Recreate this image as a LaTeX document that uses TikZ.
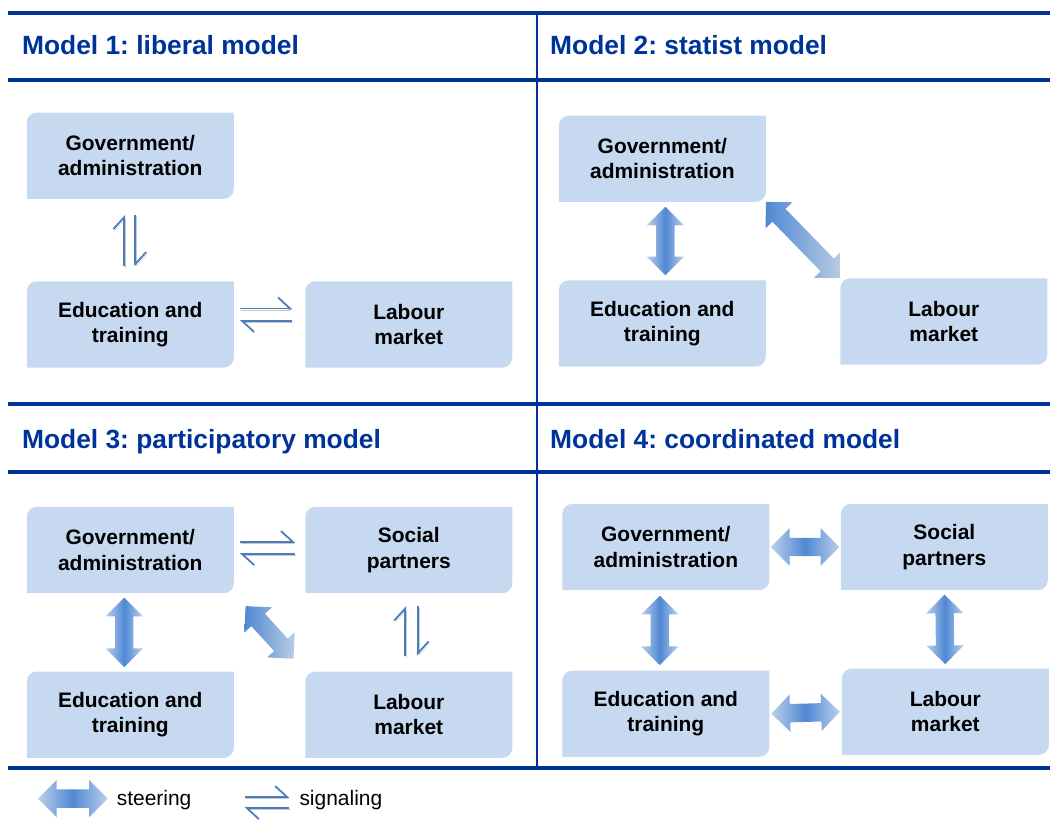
\documentclass[tikz,border=0pt]{standalone}
\usepackage{fontspec}
\setmainfont{Liberation Sans}
\usepackage{tikz}
\usetikzlibrary{arrows.meta, backgrounds, calc, positioning, shapes.arrows}
\frenchspacing

\definecolor{boxblue}{HTML}{C6D9F0}
\definecolor{titleblue}{HTML}{003399}
\definecolor{steerdark}{HTML}{4F88D3}
\definecolor{steerlight}{HTML}{BCD0EC}
\definecolor{fadelight}{HTML}{B8CCE4}
\definecolor{signalblue}{HTML}{4A7EBB}

\begin{document}
\begin{tikzpicture}[x=1pt, y=1pt]
        % Setup the styles
        \tikzset{box style/.style={rectangle,
                                   minimum width=207pt,
                                   minimum height=86pt,
                                   align=center,
                                   font=\fontsize{21}{25.3}\selectfont\bfseries},
                 title style/.style={anchor=base west,
                                     inner sep=0pt,
                                     text=titleblue,
                                     font=\fontsize{26.4}{30}\selectfont\bfseries},
                 legend style/.style={anchor=base west,
                                      font=\fontsize{21}{25}\selectfont},
                 frame line/.style={draw=titleblue, line width=3.7pt},
                 arrow body/.style={double arrow,
                                    double arrow head extend=9.5pt,
                                    minimum width=37pt,
                                    inner xsep=0pt, inner ysep=9pt, outer sep=0pt},
                 steer colors/.style={left color=steerlight, right color=steerlight,
                                      middle color=steerdark},
                 fade colors/.style={left color=steerdark, right color=fadelight},
                 steer/.style={to path={let \p1=(\tikztostart), \p2=(\tikztotarget),
                                            \n1={atan2(\y2-\y1,\x2-\x1)},
                                            \n2={veclen(\x2-\x1,\y2-\y1)} in
                     node[arrow body, steer colors, rotate=\n1, minimum height=\n2-#1]
                         at ($(\p1)!0.5!(\p2)$) {}}},
                 steer/.default=10,
                 fade steer/.style={to path={let \p1=(\tikztostart), \p2=(\tikztotarget),
                                                 \n1={atan2(\y2-\y1,\x2-\x1)},
                                                 \n2={veclen(\x2-\x1,\y2-\y1)} in
                     node[arrow body, fade colors, rotate=\n1, minimum height=\n2-#1]
                         at ($(\p1)!0.5!(\p2)$) {}}},
                 fade steer/.default=0,
                 signal/.style={draw=signalblue, line width=1.8pt,
                                -{Straight Barb[left, length=12pt, width=22pt]},
                                preaction={draw=black!22,
                                           transform canvas={shift={(1.2pt,-1.6pt)}}}}}

        % Draw the frame and the titles
        \foreach \y in {808.2, 741, 416, 348.5, 51.5}
            \draw[frame line] (8, \y) -- (1052, \y);
        \draw[titleblue, line width=2.7pt] (538, 808.2) -- (538, 51.5);

        \node[title style] at (22, 766)  (title1) {Model 1: liberal model};
        \node[title style] at (551, 766) (title2) {Model 2: statist model};
        \node[title style] at (22, 372)  (title3) {Model 3: participatory model};
        \node[title style] at (551, 372) (title4) {Model 4: coordinated model};

        % Draw the boxes
        \node[box style] at (130.5, 665) (gov1) {Government/\\administration};
        \node[box style] at (130.5, 496) (edu1) {Education and\\training};
        \node[box style] at (409.5, 496) (lab1) {Labour\\market};

        \node[box style] at (663.5, 662) (gov2) {Government/\\administration};
        \node[box style] at (663.5, 497) (edu2) {Education and\\training};
        \node[box style] at (945.5, 499) (lab2) {Labour\\market};

        \node[box style] at (130.5, 270) (gov3) {Government/\\administration};
        \node[box style] at (409.5, 270) (soc3) {Social\\partners};
        \node[box style] at (130.5, 105) (edu3) {Education and\\training};
        \node[box style] at (409.5, 105) (lab3) {Labour\\market};

        \node[box style] at (667, 273)   (gov4) {Government/\\administration};
        \node[box style] at (946, 273)   (soc4) {Social\\partners};
        \node[box style] at (667, 106)   (edu4) {Education and\\training};
        \node[box style] at (947, 108)   (lab4) {Labour\\market};

        % Fill the boxes, upper left and lower right corners rounded
        \begin{scope}[on background layer]
        \foreach \b in {gov1,edu1,lab1,gov2,edu2,lab2,gov3,soc3,edu3,lab3,gov4,soc4,edu4,lab4}
            \fill[boxblue] (\b.south west) -- ([yshift=-10]\b.north west)
                arc[start angle=180, end angle=90, radius=10] -- (\b.north east)
                -- ([yshift=10]\b.south east)
                arc[start angle=0, end angle=-90, radius=10] -- cycle;
        \end{scope}

        % Connect the boxes with steering arrows
        \path ([xshift=3]gov2.south)  edge[steer]          ([xshift=3]edu2.north)
              (gov2.south east)       edge[fade steer]     (lab2.north west)
              ([xshift=-6]gov3.south) edge[steer=9]        ([xshift=-6]edu3.north)
              (gov3.south east)       edge[fade steer=35]  (lab3.north west)
              (gov4.east)             edge[steer=3]        (soc4.west)
              (edu4.east)             edge[steer=4]        (lab4.west)
              ([xshift=-6]gov4.south) edge[steer=11]       ([xshift=-6]edu4.north)
              (soc4.south)            edge[steer=9]        (lab4.north);

        % Connect the boxes with signaling arrows
        \draw[signal] ([shift={(-6, 15)}]edu1.north) -- ([shift={(-6, -16)}]gov1.south);
        \draw[signal] ([shift={(5, -16)}]gov1.south) -- ([shift={(5, 15)}]edu1.north);
        \draw[signal] ([shift={(6, 16)}]edu1.east) -- ([shift={(-13, 16)}]lab1.west);
        \draw[signal] ([shift={(-13, 3.5)}]lab1.west) -- ([shift={(6, 3.5)}]edu1.east);

        \draw[signal] ([shift={(6, 8)}]gov3.east) -- ([shift={(-10, 8)}]soc3.west);
        \draw[signal] ([shift={(-10, -4)}]soc3.west) -- ([shift={(6, -4)}]gov3.east);
        \draw[signal] ([shift={(-3.5, 16)}]lab3.north) -- ([shift={(-3.5, -13)}]soc3.south);
        \draw[signal] ([shift={(9, -13)}]soc3.south) -- ([shift={(9, 16)}]lab3.north);

        % Draw the legend
        \node[arrow body, steer colors, minimum height=70pt] at (73, 21) (steerkey) {};
        \node[legend style] at (113.5, 14.5) (steertext) {steering};
        \coordinate (sigleft)  at (245, 17);
        \coordinate (sigright) at (290, 17);
        \draw[signal] ([yshift=5.5]sigleft) -- ([yshift=5.5]sigright);
        \draw[signal] ([yshift=-5.5]sigright) -- ([yshift=-5.5]sigleft);
        \node[legend style] at (296.5, 14.5) (sigtext) {signaling};

        \useasboundingbox (0, 0) rectangle (1052, 821);
\end{tikzpicture}
\end{document}
